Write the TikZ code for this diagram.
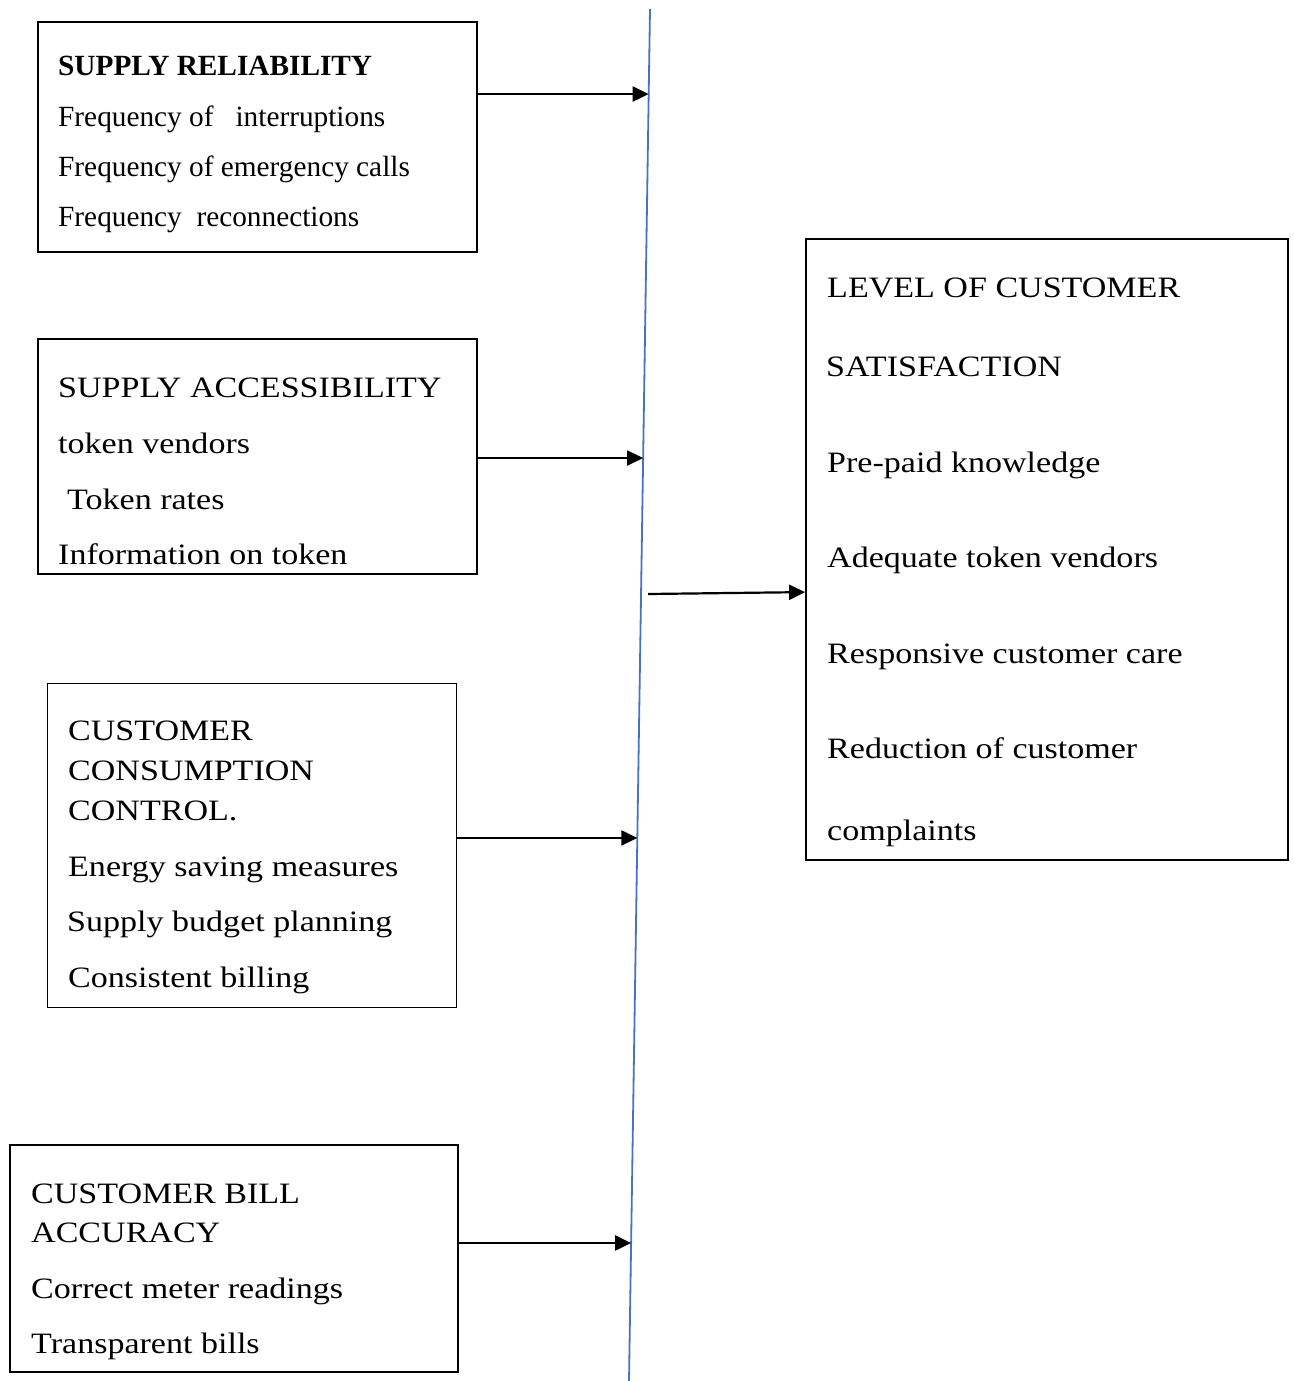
\documentclass[tikz,border=0pt]{standalone}
\usepackage{fontspec}
\setmainfont{Liberation Serif}
\newfontfamily\antfont[FakeStretch=1.15]{Liberation Serif}
\usetikzlibrary{arrows.meta,calc}
\definecolor{lineblue}{HTML}{4472C4}
\begin{document}
\begin{tikzpicture}[x=1pt,y=-1pt,
  boxst/.style={draw=black,line width=1.8pt,inner sep=0pt,rectangle},
  ta/.style={anchor=base west,inner sep=0pt,font=\fontsize{29.3pt}{30pt}\selectfont},
  tb/.style={anchor=base west,inner sep=0pt,font=\antfont\fontsize{29.6pt}{30pt}\selectfont},
  arr/.style={draw=black,line width=2.2pt,-{Triangle[length=16pt,width=15pt]}},
  vline/.style={draw=lineblue,line width=1.8pt}]
\useasboundingbox (0,0) rectangle (1293,1381);
% vertical line
\coordinate (top) at (650,9);
\coordinate (bot) at (629,1381);
\draw[vline] (top) -- (bot);
\coordinate (p1) at ($(top)!0.062!(bot)$);
\coordinate (p2) at ($(top)!0.3273!(bot)$);
\coordinate (p3) at ($(top)!0.6042!(bot)$);
\coordinate (p4) at ($(top)!0.8994!(bot)$);
% boxes
\node[boxst,minimum width=439pt,minimum height=230pt] (box1) at (257.5,137) {};
\node[boxst,minimum width=439pt,minimum height=235pt] (box2) at (257.5,456.5) {};
\node[boxst,minimum width=409pt,minimum height=324pt] (box3) at (252,845.5) {};
\node[boxst,minimum width=448pt,minimum height=227pt] (box4) at (234,1258.5) {};
\node[boxst,minimum width=482pt,minimum height=621pt] (box5) at (1047,549.5) {};
% box 1 text
\node[ta] (b1a) at (58,76) {\bfseries SUPPLY RELIABILITY};
\node[ta] (b1b) at (58,126) {Frequency of \ \ interruptions};
\node[ta] (b1c) at (58,176) {Frequency of emergency calls};
\node[ta] (b1d) at (58,226) {Frequency \ reconnections};
% box 2 text
\node[tb] (b2a) at (58,397) {SUPPLY ACCESSIBILITY};
\node[tb] (b2b) at (58,453) {token vendors};
\node[tb] (b2c) at (67,509) {Token rates};
\node[tb] (b2d) at (58,564) {Information on token};
% box 3 text
\node[tb] (b3a) at (68,740) {CUSTOMER};
\node[tb] (b3b) at (68,780) {CONSUMPTION};
\node[tb] (b3c) at (68,820) {CONTROL.};
\node[tb] (b3d) at (68,876) {Energy saving measures};
\node[tb] (b3e) at (67,931) {Supply budget planning};
\node[tb] (b3f) at (68,987) {Consistent billing};
% box 4 text
\node[tb] (b4a) at (31,1203) {CUSTOMER BILL};
\node[tb] (b4b) at (31,1242) {ACCURACY};
\node[tb] (b4c) at (31,1298) {Correct meter readings};
\node[tb] (b4d) at (31,1353) {Transparent bills};
% box 5 text
\node[tb] (b5a) at (827,297) {LEVEL OF CUSTOMER};
\node[tb] (b5b) at (826,376) {SATISFACTION};
\node[tb] (b5c) at (827,472) {Pre-paid knowledge};
\node[tb] (b5d) at (827,567) {Adequate token vendors};
\node[tb] (b5e) at (827,663) {Responsive customer care};
\node[tb] (b5f) at (827,758) {Reduction of customer};
\node[tb] (b5g) at (827,840) {complaints};
% arrows
\draw[arr] (box1.east |- p1) -- (p1);
\draw[arr] (box2.east |- p2) -- (p2);
\draw[arr] (box3.east |- p3) -- (p3);
\draw[arr] (box4.east |- p4) -- (p4);
\coordinate (s5) at (648,594);
\coordinate (e5) at ($(box5.north west)!0.5684!(box5.south west)$);
\draw[arr] (s5) -- (e5);
\end{tikzpicture}
\end{document}
